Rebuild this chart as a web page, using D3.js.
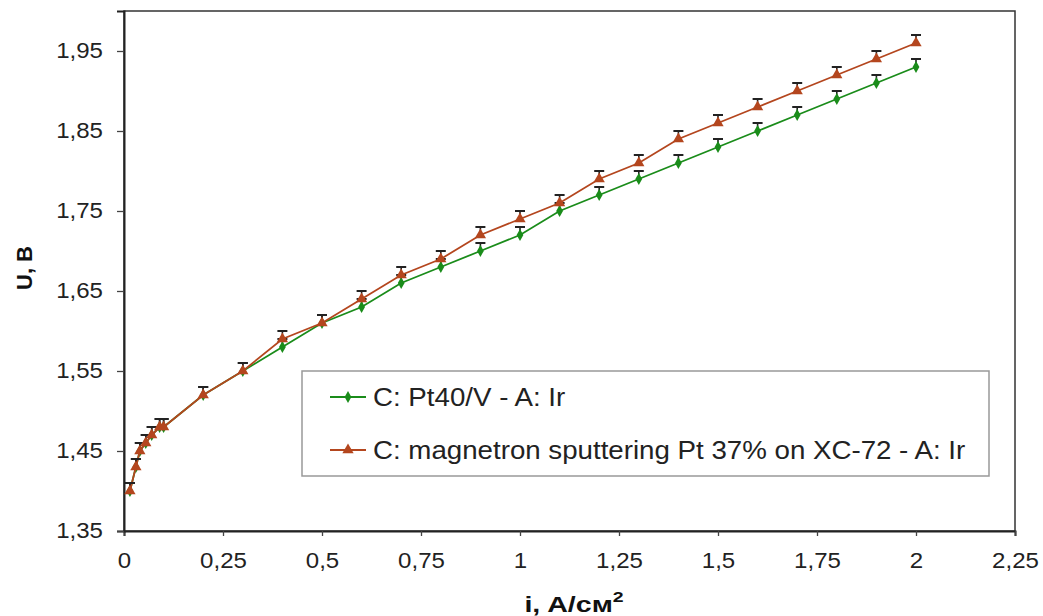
<!DOCTYPE html>
<html><head><meta charset="utf-8">
<script src="https://cdn.jsdelivr.net/npm/d3@7"></script>
<style>body{margin:0;background:#fff}svg{display:block}text{font-family:"Liberation Sans",Arial,sans-serif}</style>
</head><body>
<svg id="c" width="1043" height="616"></svg>
<script>
const currentX = [0.015,0.03,0.04,0.055,0.07,0.09,0.1,0.2,0.3,0.4,0.5,0.6,0.7,0.8,0.9,1.0,1.1,1.2,1.3,1.4,1.5,1.6,1.7,1.8,1.9,2.0];
const voltagePt40 = [1.40,1.43,1.45,1.46,1.47,1.48,1.48,1.52,1.55,1.58,1.61,1.63,1.66,1.68,1.70,1.72,1.75,1.77,1.79,1.81,1.83,1.85,1.87,1.89,1.91,1.93];
const voltageMagnetron = [1.40,1.43,1.45,1.46,1.47,1.48,1.48,1.52,1.55,1.59,1.61,1.64,1.67,1.69,1.72,1.74,1.76,1.79,1.81,1.84,1.86,1.88,1.90,1.92,1.94,1.96];
const errorPlus = 0.01;
const xTicks = [0,0.25,0.5,0.75,1,1.25,1.5,1.75,2,2.25];
const yTicks = [1.35,1.45,1.55,1.65,1.75,1.85,1.95];
const seriesNames = ["C: Pt40/V - A: Ir","C: magnetron sputtering Pt 37% on XC-72 - A: Ir"];
const seriesColors = ["#1a8c1a","#b4461e"];

const svg = d3.select("#c");
const L=124,R=1015,T=11,B=531;
const x = d3.scaleLinear().domain([0,2.25]).range([L,R]);
const y = d3.scaleLinear().domain([1.35,2.0]).range([B,T]);
const fmt = d => String(d).replace(".",",");

// frame
svg.append("rect").attr("x",L).attr("y",T).attr("width",R-L).attr("height",B-T)
  .attr("fill","none").attr("stroke","#333").attr("stroke-width",1.5);

const xa = svg.append("g").attr("transform",`translate(0,${B})`)
  .call(d3.axisBottom(x).tickValues(xTicks).tickFormat(fmt).tickSize(5).tickPadding(17));
const ya = svg.append("g").attr("transform",`translate(${L},0)`)
  .call(d3.axisLeft(y).tickValues(yTicks).tickFormat(fmt).tickSize(7).tickPadding(14));
[xa,ya].forEach(a=>{
  a.select(".domain").attr("stroke","#222").attr("stroke-width",2);
  a.selectAll(".tick line").attr("stroke","#444").attr("stroke-width",1.3);
  a.selectAll("text").attr("font-size",21.5).attr("fill","#222")
    .attr("font-family",'"Liberation Sans",Arial,sans-serif')
    .each(function(){
      const t=d3.select(this);
      const tx=+t.attr("x")||0, ty=+t.attr("y")||0;
      t.attr("x",0).attr("y",0).attr("transform",`translate(${tx},${ty}) scale(1.12,1)`);
    });
});

// axis titles
const xt = svg.append("text").attr("transform","translate(574,612) scale(1.3,1)").attr("text-anchor","middle")
  .attr("font-size",22).attr("font-weight","bold").attr("fill","#111");
xt.append("tspan").text("i, A/см");
xt.append("tspan").attr("dy",-10).attr("font-size",15).text("2");
svg.append("text").attr("transform","translate(32,268) rotate(-90)").attr("text-anchor","middle")
  .attr("font-size",22).attr("font-weight","bold").attr("fill","#111").text("U, B");

const datasets = [voltagePt40, voltageMagnetron];
const line = d3.line().x(d=>x(d[0])).y(d=>y(d[1]));
const tri = d3.symbol().type(d3.symbolTriangle).size(55);
const dia = d3.symbol().type(d3.symbolDiamond).size(40);

datasets.forEach((vals,i)=>{
  const pts = currentX.map((c,j)=>[c,vals[j]]);
  const g = svg.append("g");
  g.append("path").datum(pts).attr("d",line).attr("fill","none")
    .attr("stroke",seriesColors[i]).attr("stroke-width",1.8);
  // error bars (plus only)
  const eb = g.append("g").attr("stroke","#222").attr("stroke-width",1.6);
  pts.forEach(p=>{
    eb.append("line").attr("x1",x(p[0])).attr("x2",x(p[0])).attr("y1",y(p[1])).attr("y2",y(p[1]+errorPlus));
    eb.append("line").attr("x1",x(p[0])-5).attr("x2",x(p[0])+5).attr("y1",y(p[1]+errorPlus)).attr("y2",y(p[1]+errorPlus))
      .attr("stroke-width",2);
  });
  g.selectAll("path.m").data(pts).join("path").attr("class","m")
    .attr("transform",d=>`translate(${x(d[0])},${y(d[1])})`)
    .attr("d",i===0?dia:tri).attr("fill",seriesColors[i]);
});

// legend
const lg = svg.append("g");
lg.append("rect").attr("x",302).attr("y",371).attr("width",687).attr("height",105)
  .attr("fill","#fff").attr("stroke","#999").attr("stroke-width",1.5);
[397,450].forEach((ly,i)=>{
  lg.append("line").attr("x1",330).attr("x2",366).attr("y1",ly).attr("y2",ly)
    .attr("stroke",seriesColors[i]).attr("stroke-width",1.8);
  lg.append("path").attr("transform",`translate(348,${ly})`).attr("d",i===0?dia:tri).attr("fill",seriesColors[i]);
  lg.append("text").attr("transform",`translate(373,${ly+9}) scale(1.065,1)`).attr("font-size",26)
    .attr("fill","#222").text(seriesNames[i]);
});
</script>
</body></html>
